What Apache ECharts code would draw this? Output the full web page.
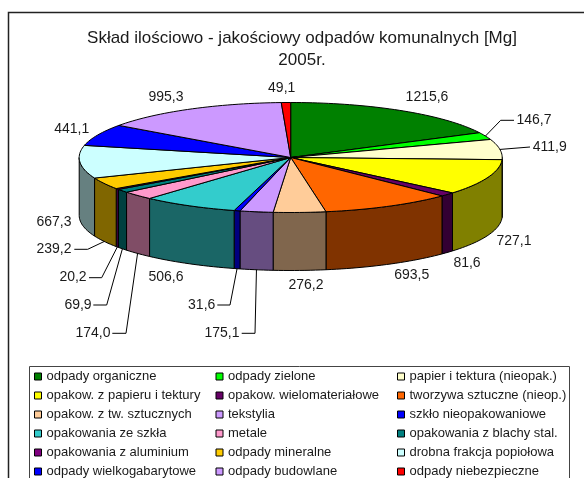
<!DOCTYPE html>
<html><head><meta charset="utf-8">
<style>html,body{margin:0;padding:0;background:#fff}#c{width:584px;height:478px}</style>
<script src="https://cdn.jsdelivr.net/npm/echarts@6/dist/echarts.min.js"></script>
</head><body><div id="c"></div>
<script>
const names = ['odpady organiczne','odpady zielone','papier i tektura (nieopak.)',
 'opakow. z papieru i tektury','opakow. wielomateriałowe','tworzywa sztuczne (nieop.)',
 'opakow. z tw. sztucznych','tekstylia','szkło nieopakowaniowe',
 'opakowania ze szkła','metale','opakowania z blachy stal.',
 'opakowania z aluminium','odpady mineralne','drobna frakcja popiołowa',
 'odpady wielkogabarytowe','odpady budowlane','odpady niebezpieczne'];
const values = [1215.6,146.7,411.9,727.1,81.6,693.5,276.2,175.1,31.6,506.6,174.0,69.9,20.2,239.2,667.3,441.1,995.3,49.1];
const colors = ['#008000','#00FF00','#FFFFCC','#FFFF00','#660066','#FF6600','#FFCC99','#CC99FF','#0000FF',
 '#33CCCC','#FF99CC','#008080','#800080','#FFCC00','#CCFFFF','#0000FF','#CC99FF','#FF0000'];
// label centres [x, y] and optional leader path (elbow, end)
const labelPos = [[427,97.5],[534,120],[549.7,147],[514,241],[467,263],[411.7,275],[306,284.7],[222,332.7],[201.7,304.7],
 [166,277],[93,332.7],[78,304.7],[73,277],[54,249],[54,221.7],[71.7,129],[166,96.7],[281.7,88]];
const leaders = {1:[[500.7,120.3],[514,120.3]],2:[[530,147]],7:[[255,333.3],[241.7,333.3]],8:[[230,305],[217.3,305]],
 10:[[126,333.3],[112.3,333.3]],11:[[106.7,305],[93.3,305]],12:[[101.7,277.7],[89,277.7]],13:[[87.7,249.3],[74.3,249.3]]};
const pie = {cx:290.7, cy:157.5, rx:211.5, ry:55, depth:58};

const total = values.reduce((a,b)=>a+b,0);
let run = 0;
const spans = values.map(v=>{const s=run; run+=v; return [s/total*360,run/total*360];});
const rim = (deg,dy)=>{const r=deg*Math.PI/180; return [pie.cx+pie.rx*Math.sin(r), pie.cy-pie.ry*Math.cos(r)+(dy||0)];};
const arc = (a,b,dy)=>{const n=Math.max(2,Math.ceil((b-a)/1.5)),p=[];for(let i=0;i<=n;i++)p.push(rim(a+(b-a)*i/n,dy));return p;};
const dark = c=>'#'+[1,3,5].map(i=>Math.round(parseInt(c.substr(i,2),16)/2).toString(16).padStart(2,'0')).join('');
const stroke='#000', ink='#1a1a1a';

function renderSlice(i){
  const [a,b]=spans[i], kids=[];
  const fa=Math.max(a,90), fb=Math.min(b,270);
  if(fb>fa){
    kids.push({type:'polygon',z2:1,shape:{points:arc(fa,fb,0).concat(arc(fa,fb,pie.depth).reverse())},
      style:{fill:dark(colors[i]),stroke,lineWidth:1,lineJoin:'round'}});
  }
  kids.push({type:'polygon',z2:2,shape:{points:[[pie.cx,pie.cy]].concat(arc(a,b,0))},
    style:{fill:colors[i],stroke,lineWidth:1,lineJoin:'round'}});
  const mid=(a+b)/2;
  if(leaders[i]){
    const front=mid>90&&mid<270;
    kids.push({type:'polyline',z2:3,shape:{points:[rim(mid,front?pie.depth:0)].concat(leaders[i])},
      style:{fill:'none',stroke:'#000',lineWidth:1}});
  }
  kids.push({type:'text',z2:4,x:labelPos[i][0],y:labelPos[i][1],
    style:{text:values[i].toFixed(1).replace('.',','),fill:ink,font:'14px "Liberation Sans", Arial, sans-serif',align:'center',verticalAlign:'middle'}});
  return {type:'group',children:kids};
}

const chart=echarts.init(document.getElementById('c'),null,{renderer:'canvas'});
chart.setOption({
  animation:false,
  backgroundColor:'#fff',
  textStyle:{fontFamily:'"Liberation Sans", Arial, sans-serif'},
  title:{text:'Skład ilościowo - jakościowy odpadów komunalnych [Mg]\n2005r.',left:297,top:22,textAlign:'center',
    textStyle:{fontSize:17,fontWeight:'normal',color:ink,lineHeight:22,fontFamily:'"Liberation Sans", Arial, sans-serif'}},
  legend:{left:34,top:367,width:546,padding:0,itemGap:0,itemWidth:7,itemHeight:7,selectedMode:false,icon:'rect',
    data:names.map((n,i)=>({name:n,icon:'rect',itemStyle:{color:colors[i],borderColor:'#000',borderWidth:1}})),
    textStyle:{fontSize:13,color:ink,width:169,overflow:'none',lineHeight:19,fontFamily:'"Liberation Sans", Arial, sans-serif'}},
  graphic:[
    {type:'rect',z:-10,silent:true,shape:{x:8.5,y:12.5,width:700,height:600},style:{fill:'#fff',stroke:'#222',lineWidth:1.5}},
    {type:'rect',z:-9,silent:true,shape:{x:29.5,y:366.5,width:540,height:200},style:{fill:'#fff',stroke:'#444',lineWidth:1}}
  ],
  series:names.map((n,i)=>({type:'custom',name:n,coordinateSystem:'none',silent:true,
    itemStyle:{color:colors[i]},data:[[values[i]]],renderItem:()=>renderSlice(i)}))
});
</script></body></html>
